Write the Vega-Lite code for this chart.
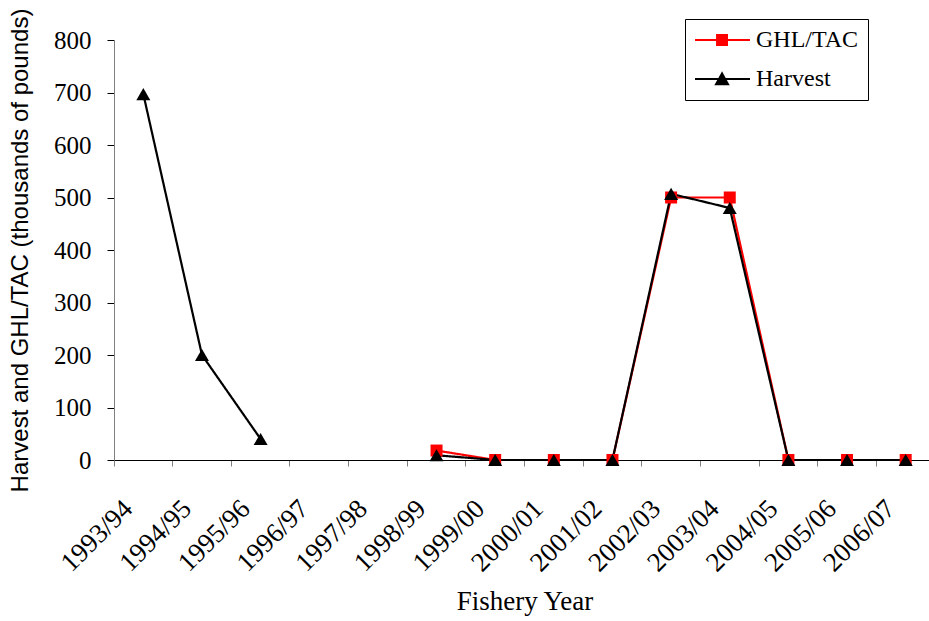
{
  "$schema": "https://vega.github.io/schema/vega-lite/v6.json",
  "width": 815,
  "height": 420,
  "autosize": {"type": "none"},
  "padding": {"left": 114, "top": 40, "right": 0, "bottom": 161},
  "background": "white",
  "config": {"view": {"stroke": null}, "font": "Liberation Serif"},
  "data": {
    "values": [
      {"year": "1998/99", "series": "GHL/TAC", "value": 18},
      {"year": "1999/00", "series": "GHL/TAC", "value": 0},
      {"year": "2000/01", "series": "GHL/TAC", "value": 0},
      {"year": "2001/02", "series": "GHL/TAC", "value": 0},
      {"year": "2002/03", "series": "GHL/TAC", "value": 500},
      {"year": "2003/04", "series": "GHL/TAC", "value": 500},
      {"year": "2004/05", "series": "GHL/TAC", "value": 0},
      {"year": "2005/06", "series": "GHL/TAC", "value": 0},
      {"year": "2006/07", "series": "GHL/TAC", "value": 0},
      {"year": "1993/94", "series": "Harvest", "value": 697},
      {"year": "1994/95", "series": "Harvest", "value": 200},
      {"year": "1995/96", "series": "Harvest", "value": 40},
      {"year": "1996/97", "series": "Harvest", "value": null},
      {"year": "1997/98", "series": "Harvest", "value": null},
      {"year": "1998/99", "series": "Harvest", "value": 9},
      {"year": "1999/00", "series": "Harvest", "value": 0},
      {"year": "2000/01", "series": "Harvest", "value": 0},
      {"year": "2001/02", "series": "Harvest", "value": 0},
      {"year": "2002/03", "series": "Harvest", "value": 507},
      {"year": "2003/04", "series": "Harvest", "value": 480},
      {"year": "2004/05", "series": "Harvest", "value": 0},
      {"year": "2005/06", "series": "Harvest", "value": 0},
      {"year": "2006/07", "series": "Harvest", "value": 0}
    ]
  },
  "encoding": {
    "x": {
      "field": "year",
      "type": "ordinal",
      "scale": {
        "type": "band",
        "domain": ["1993/94", "1994/95", "1995/96", "1996/97", "1997/98", "1998/99", "1999/00", "2000/01", "2001/02", "2002/03", "2003/04", "2004/05", "2005/06", "2006/07"],
        "paddingInner": 0,
        "paddingOuter": 0,
        "range": [0, 821]
      },
      "title": "Fishery Year",
      "axis": {
        "bandPosition": 0,
        "labelAngle": -45,
        "labelAlign": "right",
        "labelBaseline": "top",
        "labelFont": "Liberation Serif",
        "labelFontSize": 27,
        "labelColor": "#000000",
        "labelOffset": -24,
        "labelPadding": 29,
        "labelOverlap": false,
        "tickSize": 6,
        "tickColor": "#808080",
        "domainColor": "#000000",
        "grid": false,
        "titleFont": "Liberation Serif",
        "titleFontSize": 27,
        "titleFontWeight": "normal",
        "titleColor": "#000000",
        "titlePadding": 13
      }
    },
    "y": {
      "field": "value",
      "type": "quantitative",
      "scale": {"domain": [0, 800], "nice": false},
      "title": "Harvest and GHL/TAC (thousands of pounds)",
      "axis": {
        "values": [0, 100, 200, 300, 400, 500, 600, 700, 800],
        "labelFont": "Liberation Serif",
        "labelFontSize": 25,
        "labelColor": "#000000",
        "labelPadding": 16,
        "tickSize": 7,
        "tickColor": "#000000",
        "domainColor": "#808080",
        "grid": false,
        "titleFont": "Liberation Sans",
        "titleFontSize": 24,
        "titleFontWeight": "normal",
        "titleColor": "#000000",
        "titlePadding": 21
      }
    },
    "color": {
      "field": "series",
      "type": "nominal",
      "scale": {"domain": ["GHL/TAC", "Harvest"], "range": ["#FF0000", "#000000"]},
      "legend": null
    }
  },
  "layer": [
    {
      "mark": {"type": "line", "strokeWidth": 2.2},
      "encoding": {
        "strokeDash": {
          "field": "series",
          "type": "nominal",
          "scale": {"range": [[1, 0], [1, 0]]},
          "legend": {
            "title": null,
            "orient": "none",
            "legendX": 571,
            "legendY": -21,
            "padding": 9,
            "strokeColor": "#000000",
            "fillColor": "#FFFFFF",
            "labelFont": "Liberation Serif",
            "labelFontSize": 24,
            "labelColor": "#000000",
            "labelOffset": 38,
            "rowPadding": 15,
            "symbolSize": 196,
            "encode": {
              "symbols": {
                "update": {
                  "shape": {"signal": "datum.value === 'GHL/TAC' ? 'M-1.57,0H6.29M1.58,-0.71H3V0.71H1.58Z' : 'M-1.57,0H6.29M2.29,-0.8L3.15,0.75H1.43Z'"},
                  "fill": {"scale": "color", "field": "value"},
                  "stroke": {"scale": "color", "field": "value"},
                  "strokeWidth": {"value": 2},
                  "opacity": {"value": 1},
                  "size": {"value": 196}
                }
              }
            }
          }
        }
      }
    },
    {
      "mark": {"type": "point", "filled": true, "opacity": 1},
      "encoding": {
        "shape": {
          "field": "series",
          "type": "nominal",
          "scale": {"domain": ["GHL/TAC", "Harvest"], "range": ["square", "triangle-up"]},
          "legend": null
        },
        "size": {
          "field": "series",
          "type": "ordinal",
          "scale": {"domain": ["GHL/TAC", "Harvest"], "range": [144, 196]},
          "legend": null
        }
      }
    }
  ]
}
